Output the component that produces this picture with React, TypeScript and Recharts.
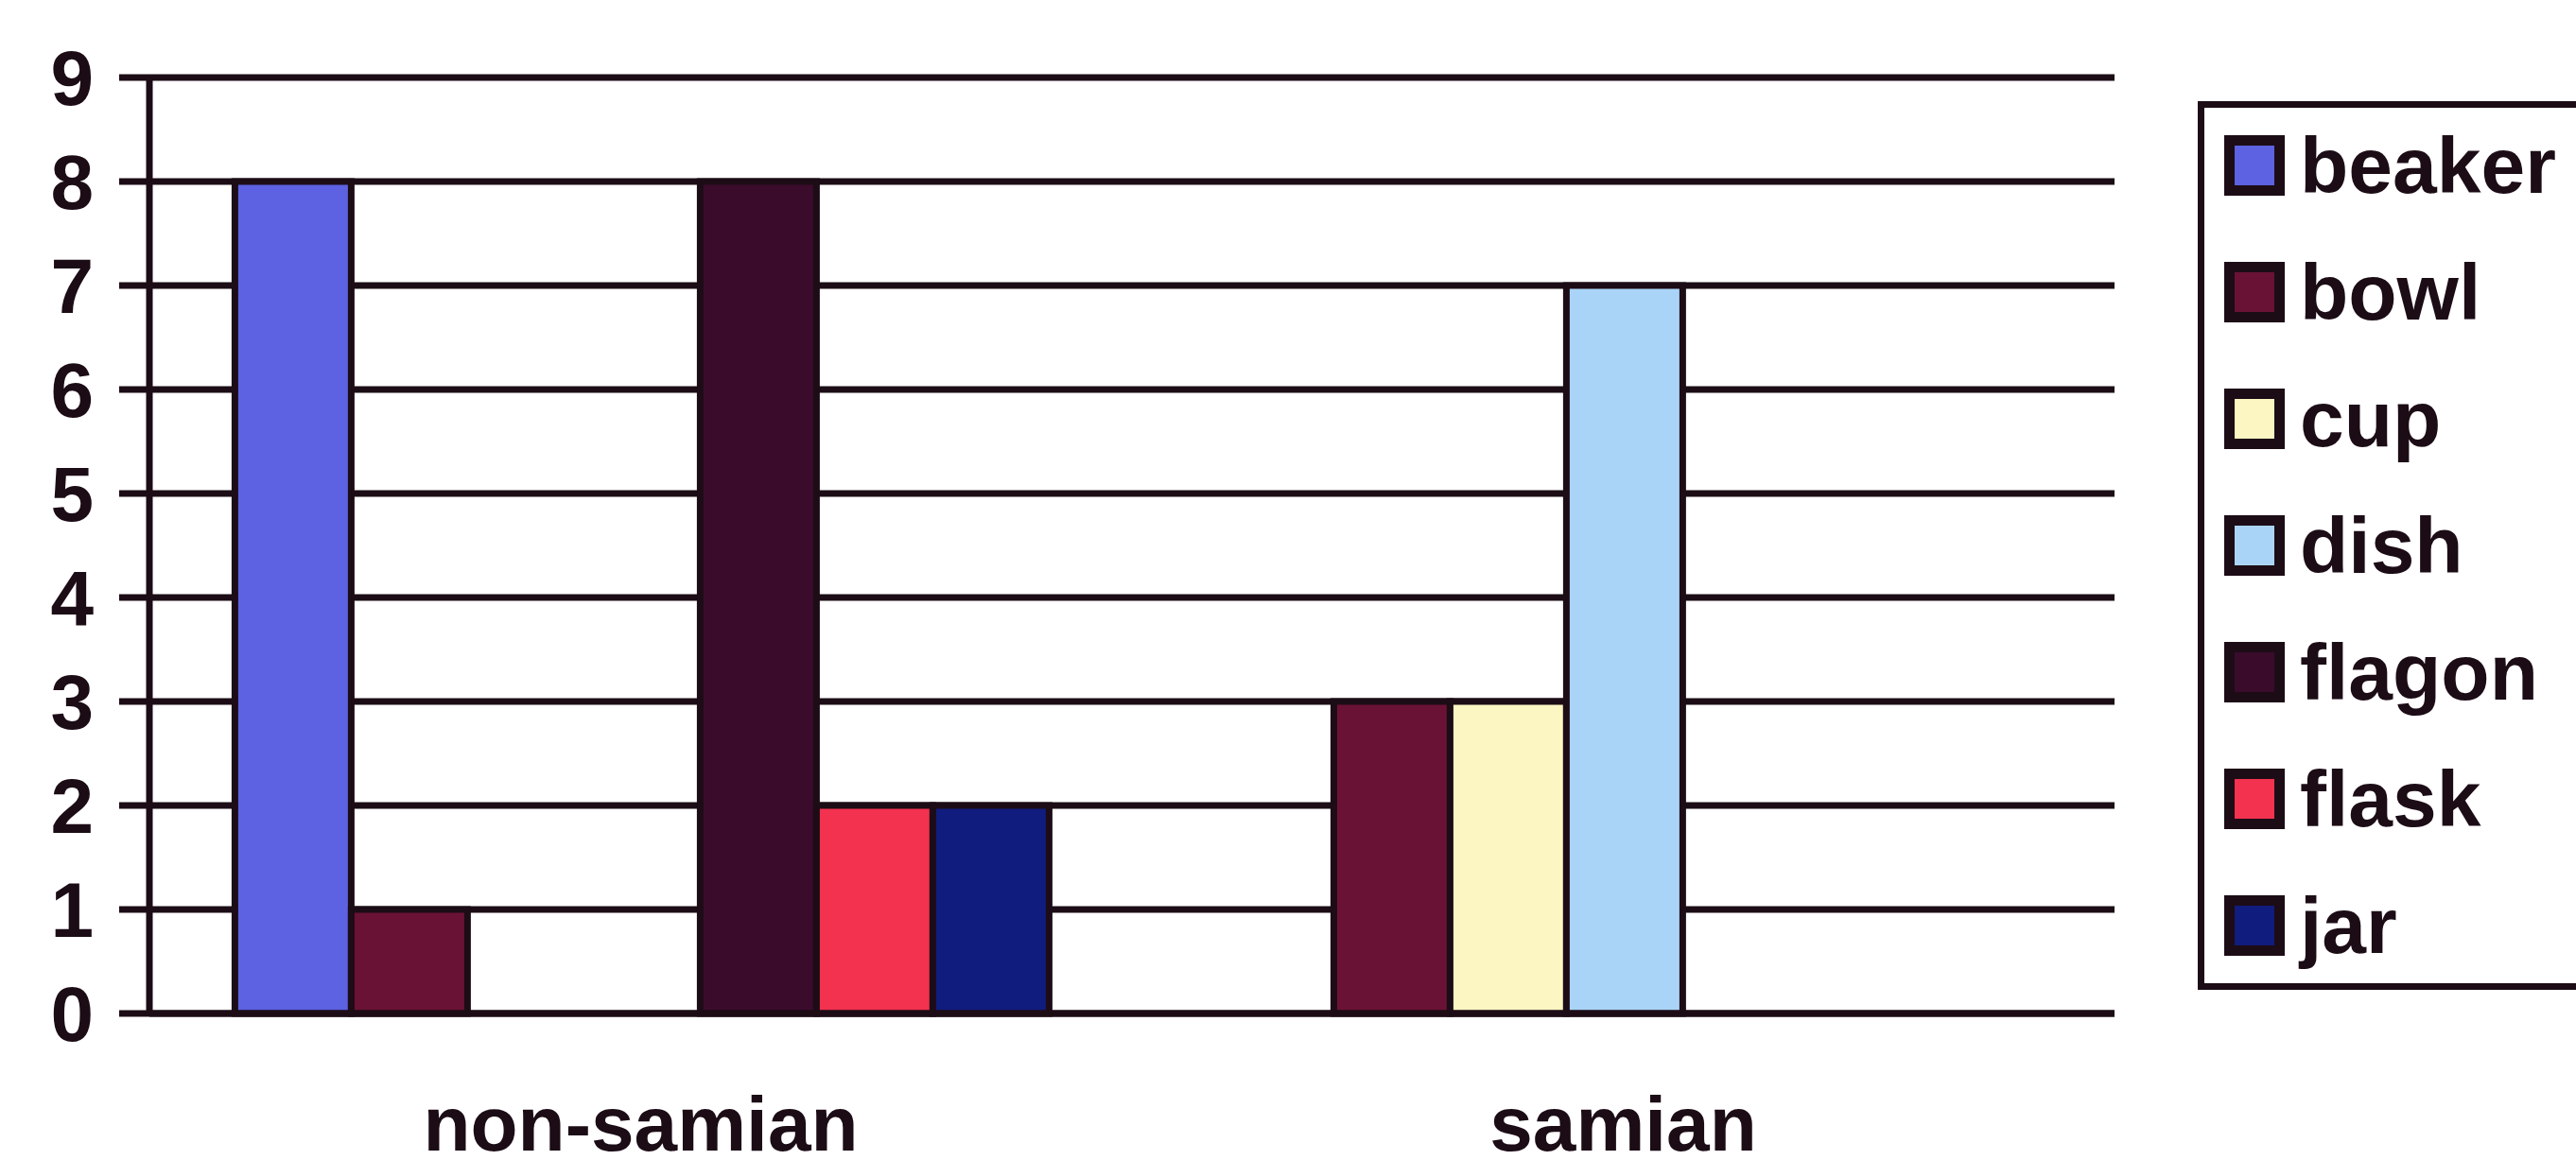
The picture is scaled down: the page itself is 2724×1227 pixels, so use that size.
import React from 'react';
import { BarChart, Bar, XAxis, YAxis, CartesianGrid, Legend } from 'recharts';

const categories = ['non-samian', 'samian'];
const seriesNames = ['beaker', 'bowl', 'cup', 'dish', 'flagon', 'flask', 'jar'];
const seriesColors = ['#5c62e2', '#6a1235', '#fbf6c2', '#aad4f7', '#3b0b2c', '#f2324f', '#101c7e'];
const beaker = [8, 0];
const bowl = [1, 3];
const cup = [0, 3];
const dish = [0, 7];
const flagon = [8, 0];
const flask = [2, 0];
const jar = [2, 0];
const yTicks = [0, 1, 2, 3, 4, 5, 6, 7, 8, 9];
const edgeTicks = [0, 1, 2];

const seriesValues = [beaker, bowl, cup, dish, flagon, flask, jar];
const data = categories.map((c, i) => {
  const row: Record<string, string | number> = { category: c, idx: i };
  seriesNames.forEach((s, k) => {
    row[s] = seriesValues[k][i];
  });
  return row;
});

const INK = '#1c0c16';
const FONT = '"Liberation Sans", Arial, Helvetica, sans-serif';
const LINE = 7;

const LegendBox = (props: any) => {
  const payload = props.payload || [];
  return (
    <div
      style={{
        boxSizing: 'border-box',
        width: 460,
        height: 940,
        border: `${LINE}px solid ${INK}`,
        background: '#fff',
        paddingLeft: 21,
      }}
    >
      <div style={{ marginTop: -6 }}>
        {payload.map((p: any) => (
          <div
            key={p.value}
            style={{ display: 'flex', alignItems: 'center', height: 134 }}
          >
            <div
              style={{
                boxSizing: 'border-box',
                width: 64,
                height: 64,
                background: p.color,
                border: `11px solid ${INK}`,
                marginRight: 16,
                flexShrink: 0,
              }}
            />
            <span
              style={{
                fontFamily: FONT,
                fontWeight: 'bold',
                fontSize: 84,
                color: INK,
                lineHeight: 1,
              }}
            >
              {p.value}
            </span>
          </div>
        ))}
      </div>
    </div>
  );
};

export default function App() {
  return (
    <div
      style={{
        position: 'fixed',
        left: 0,
        top: 0,
        width: 2724,
        height: 1227,
        overflow: 'hidden',
        background: '#fff',
      }}
    >
      <BarChart
        width={2724}
        height={1227}
        data={data}
        margin={{ top: 82, right: 488, bottom: 0, left: 0 }}
        barCategoryGap="8.7%"
        barGap={0}
      >
        <CartesianGrid horizontal vertical={false} stroke={INK} strokeWidth={LINE} />
        <XAxis
          xAxisId="edges"
          type="number"
          dataKey="idx"
          domain={[0, 2]}
          ticks={edgeTicks}
          tickFormatter={() => ''}
          tickSize={30}
          tickLine={{ stroke: INK, strokeWidth: LINE }}
          axisLine={false}
          height={0}
          allowDataOverflow
        />
        <XAxis
          dataKey="category"
          tickLine={false}
          tickSize={0}
          tickMargin={87}
          axisLine={{ stroke: INK, strokeWidth: LINE }}
          height={155}
          tick={{ fontFamily: FONT, fontWeight: 'bold', fontSize: 82, fill: INK }}
        />
        <YAxis
          domain={[0, 9]}
          ticks={yTicks}
          interval={0}
          width={158}
          tickSize={32}
          tickMargin={27}
          tickLine={{ stroke: INK, strokeWidth: LINE }}
          axisLine={{ stroke: INK, strokeWidth: LINE }}
          tick={{ fontFamily: FONT, fontWeight: 'bold', fontSize: 82, fill: INK }}
        />
        <Legend
          layout="horizontal"
          align="center"
          verticalAlign="middle"
          content={<LegendBox />}
          wrapperStyle={{ position: 'absolute', left: 2324, top: 107, width: 460, height: 940 }}
        />
        {seriesNames.map((s, k) => (
          <Bar
            key={s}
            dataKey={s}
            name={s}
            fill={seriesColors[k]}
            stroke={INK}
            strokeWidth={LINE}
            isAnimationActive={false}
          />
        ))}
      </BarChart>
    </div>
  );
}
